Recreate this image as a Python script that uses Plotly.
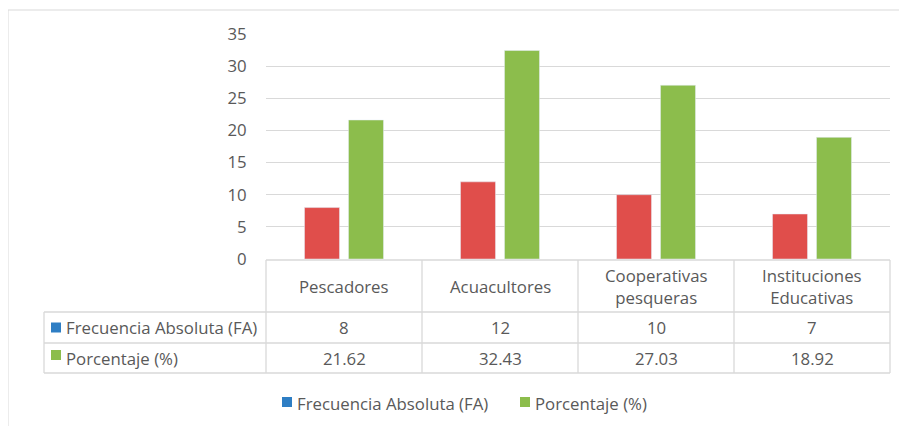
import plotly.graph_objects as go

categories = ["Pescadores", "Acuacultores", "Cooperativas<br>pesqueras", "Instituciones<br>Educativas"]
fa_values = [8, 12, 10, 7]
pct_values = [21.62, 32.43, 27.03, 18.92]
fa_labels = ["8", "12", "10", "7"]
pct_labels = ["21.62", "32.43", "27.03", "18.92"]
series_names = ["Frecuencia Absoluta (FA)", "Porcentaje (%)"]
y_ticks = [0, 5, 10, 15, 20, 25, 30, 35]

OFF = 8  # page body margin
W, H = 907 - OFF, 426 - OFF
PX0, PX1, PY0, PY1 = 266, 890, 34, 259  # plot area in page pixels
FONT = "Open Sans"
TXT = "#595959"
GRID = "#D9D9D9"
RED = "#E04E4B"
GREEN = "#8CBD4C"
BLUE = "#2E7EC4"
FS = 16.8


def px(x):
    return (x - PX0) / (PX1 - PX0)


def py(y):
    return (PY1 - y) / (PY1 - PY0)


fig = go.Figure()
fig.add_trace(go.Bar(x=list(range(len(categories))), y=fa_values, name=series_names[0],
                     marker_color=RED, width=0.2244, offset=-0.2532, showlegend=False,
                     hoverinfo="skip"))
fig.add_trace(go.Bar(x=list(range(len(categories))), y=pct_values, name=series_names[1],
                     marker_color=GREEN, width=0.2244, offset=0.0288, showlegend=False,
                     hoverinfo="skip"))

shapes = []
annotations = []
ncat = len(categories)

# outer chart border
shapes.append(dict(type="rect", xref="paper", yref="paper", x0=px(8), y0=py(440), x1=px(920), y1=py(10),
                   line=dict(color=GRID, width=1), fillcolor="rgba(0,0,0,0)", layer="below"))

# table lines
row_y = [260, 312, 343, 373]
shapes.append(dict(type="line", xref="paper", yref="paper", x0=0, x1=1, y0=py(row_y[0]), y1=py(row_y[0]),
                   line=dict(color=GRID, width=1.3)))
for yy in row_y[1:]:
    shapes.append(dict(type="line", xref="paper", yref="paper", x0=px(44), x1=1, y0=py(yy), y1=py(yy),
                       line=dict(color=GRID, width=1.3)))
shapes.append(dict(type="line", xref="paper", yref="paper", x0=px(44), x1=px(44), y0=py(312), y1=py(373),
                   line=dict(color=GRID, width=1.3)))
for i in range(ncat + 1):
    shapes.append(dict(type="line", xref="paper", yref="paper", x0=i / ncat, x1=i / ncat,
                       y0=py(260), y1=py(373), line=dict(color=GRID, width=1.3)))

# category labels and values
for i, cat in enumerate(categories):
    annotations.append(dict(x=i, y=py(286), xref="x", yref="paper", text=cat, showarrow=False,
                            font=dict(family=FONT, size=FS, color=TXT), align="center",
                            xanchor="center", yanchor="middle"))
    annotations.append(dict(x=i, y=py(327.5), xref="x", yref="paper", text=fa_labels[i], showarrow=False,
                            font=dict(family=FONT, size=FS, color=TXT), xanchor="center", yanchor="middle"))
    annotations.append(dict(x=i, y=py(358), xref="x", yref="paper", text=pct_labels[i], showarrow=False,
                            font=dict(family=FONT, size=FS, color=TXT), xanchor="center", yanchor="middle"))

# row headers with key squares
for name, col, yc in [(series_names[0], BLUE, 327.5), (series_names[1], GREEN, 355)]:
    shapes.append(dict(type="rect", xref="paper", yref="paper", x0=px(51), x1=px(61),
                       y0=py(yc + 5), y1=py(yc - 5), line=dict(width=0), fillcolor=col))
for name, yc in [(series_names[0], 327.5), (series_names[1], 358)]:
    annotations.append(dict(x=px(64), y=py(yc), xref="paper", yref="paper", text=name, showarrow=False,
                            font=dict(family=FONT, size=FS, color=TXT), xanchor="left", yanchor="middle"))

# legend
for name, col, x0 in [(series_names[0], BLUE, 282), (series_names[1], GREEN, 520)]:
    shapes.append(dict(type="rect", xref="paper", yref="paper", x0=px(x0), x1=px(x0 + 10),
                       y0=py(407), y1=py(397), line=dict(width=0), fillcolor=col))
    annotations.append(dict(x=px(x0 + 13), y=py(403), xref="paper", yref="paper", text=name, showarrow=False,
                            font=dict(family=FONT, size=FS, color=TXT), xanchor="left", yanchor="middle"))

fig.update_layout(
    width=W, height=H, autosize=False,
    margin=dict(l=PX0 - OFF, r=W - (PX1 - OFF), t=PY0 - OFF, b=H - (PY1 - OFF), pad=0),
    paper_bgcolor="white", plot_bgcolor="white",
    showlegend=False,
    shapes=shapes, annotations=annotations,
    xaxis=dict(range=[-0.5, ncat - 0.5], showticklabels=False, showgrid=False, zeroline=False,
               showline=False, fixedrange=True),
    yaxis=dict(range=[0, 35], tickvals=y_ticks, showgrid=True, gridcolor=GRID, gridwidth=1.3,
               zeroline=False, showline=False, ticks="outside", ticklen=15,
               tickcolor="rgba(0,0,0,0)", tickfont=dict(family=FONT, size=FS, color=TXT)),
    font=dict(family=FONT, color=TXT),
)

fig.write_html("out.html")
